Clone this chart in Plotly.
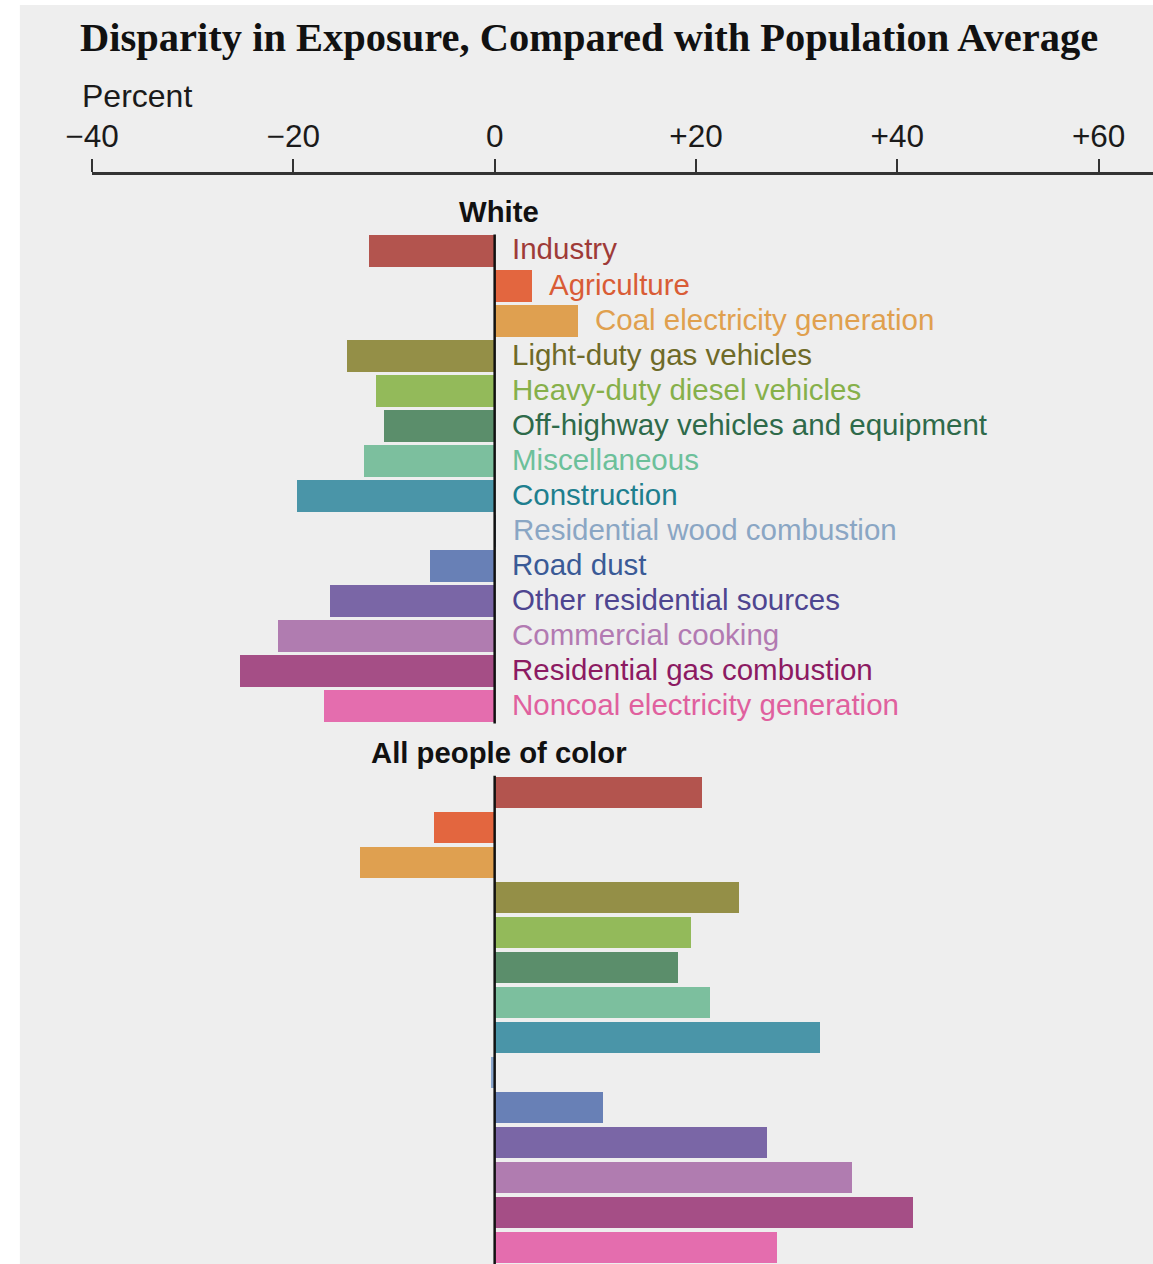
import plotly.graph_objects as go

# Emission source categories (top to bottom)
sources = [
    "Industry",
    "Agriculture",
    "Coal electricity generation",
    "Light-duty gas vehicles",
    "Heavy-duty diesel vehicles",
    "Off-highway vehicles and equipment",
    "Miscellaneous",
    "Construction",
    "Residential wood combustion",
    "Road dust",
    "Other residential sources",
    "Commercial cooking",
    "Residential gas combustion",
    "Noncoal electricity generation",
]

# Percent difference in exposure vs. population average
white = [-12.5, 3.7, 8.3, -14.7, -11.8, -11.0, -13.0, -19.6, 0.1, -6.4, -16.4, -21.5, -25.3, -17.0]
people_of_color = [20.6, -6.0, -13.4, 24.3, 19.5, 18.2, 21.4, 32.3, -0.35, 10.8, 27.1, 35.5, 41.6, 28.0]

group_names = ["White", "All people of color"]

tick_vals = [-40, -20, 0, 20, 40, 60]
tick_text = ["\u221240", "\u221220", "0", "+20", "+40", "+60"]

bar_colors = [
    "#B3544E", "#E3663F", "#DFA050", "#948F47", "#93BA5A", "#5B8E6B", "#7CBF9E",
    "#4A95A8", "#8AA6CC", "#6880B6", "#7A66A6", "#B07CB0", "#A54E86", "#E46DAE",
]
label_colors = [
    "#9E3B38", "#D95C36", "#E0A04E", "#6E6A28", "#86B04A", "#2E6A4A", "#6CC09A",
    "#1E7F8E", "#8AA6C4", "#3A5A96", "#4E4590", "#B27AB2", "#8C1A62", "#E0609E",
]

BG = "#EEEEEE"
SANS = "Liberation Sans, Arial, sans-serif"
n = len(sources)
group_offset = 15.46  # row position where the second group starts

rows_white = list(range(n))
rows_poc = [group_offset + i for i in range(n)]

fig = go.Figure()

for rows, vals in [(rows_white, white), (rows_poc, people_of_color)]:
    fig.add_trace(go.Bar(
        x=vals, y=rows, orientation="h", width=0.89,
        marker=dict(color=bar_colors, line=dict(width=0)),
        showlegend=False, hoverinfo="x",
    ))

# Zero reference lines for each group
for start in [0, group_offset]:
    fig.add_shape(type="line", xref="x", yref="y", x0=0, x1=0,
                  y0=start - 0.47, y1=start + n - 0.5,
                  line=dict(color="#111111", width=2.5), layer="above")

# Category labels beside the first group
for i, (name, v) in enumerate(zip(sources, white)):
    fig.add_annotation(x=max(v, 0), y=rows_white[i], text=name, showarrow=False,
                       xanchor="left", yanchor="middle", xshift=15, yshift=2,
                       font=dict(family=SANS, size=29.5, color=label_colors[i]))

# Group headers
for start, name in zip([0, group_offset], group_names):
    fig.add_annotation(x=0, y=start - 1.12, text=f"<b>{name}</b>", showarrow=False,
                       xanchor="center", yanchor="middle", xshift=4,
                       font=dict(family=SANS, size=29.3, color="#111111"))

# Title and unit label
fig.add_annotation(xref="paper", yref="paper", x=-0.0136, y=1.1265,
                   text="<b>Disparity in Exposure, Compared with Population Average</b>",
                   showarrow=False, xanchor="left", yanchor="middle",
                   font=dict(family="Liberation Serif, Times New Roman, serif", size=40.5, color="#111111"))
fig.add_annotation(xref="paper", yref="paper", x=-0.0113, y=1.0725,
                   text="Percent", showarrow=False, xanchor="left", yanchor="middle",
                   font=dict(family=SANS, size=32, color="#1A1A1A"))

# Panel background
fig.add_shape(type="rect", xref="paper", yref="paper", x0=-0.068, x1=1.01,
              y0=-0.01, y1=1.156, fillcolor=BG, line=dict(width=0), layer="below")

fig.update_layout(
    width=1153, height=1264,
    margin=dict(l=92, r=0, t=175, b=0, pad=0),
    paper_bgcolor="white", plot_bgcolor=BG,
    bargap=0,
    xaxis=dict(
        range=[-40, 65.4], side="top", tickvals=tick_vals, ticktext=tick_text,
        showgrid=False, zeroline=False, showline=True, linecolor="#333333", linewidth=2.8,
        ticks="outside", ticklen=13, tickwidth=2, tickcolor="#333333",
        tickfont=dict(family=SANS, size=31.5, color="#1A1A1A"), fixedrange=True,
    ),
    yaxis=dict(
        range=[28.94, -2.171], showgrid=False, zeroline=False, showline=False,
        showticklabels=False, ticks="", fixedrange=True,
    ),
)

fig.write_html("out.html")
